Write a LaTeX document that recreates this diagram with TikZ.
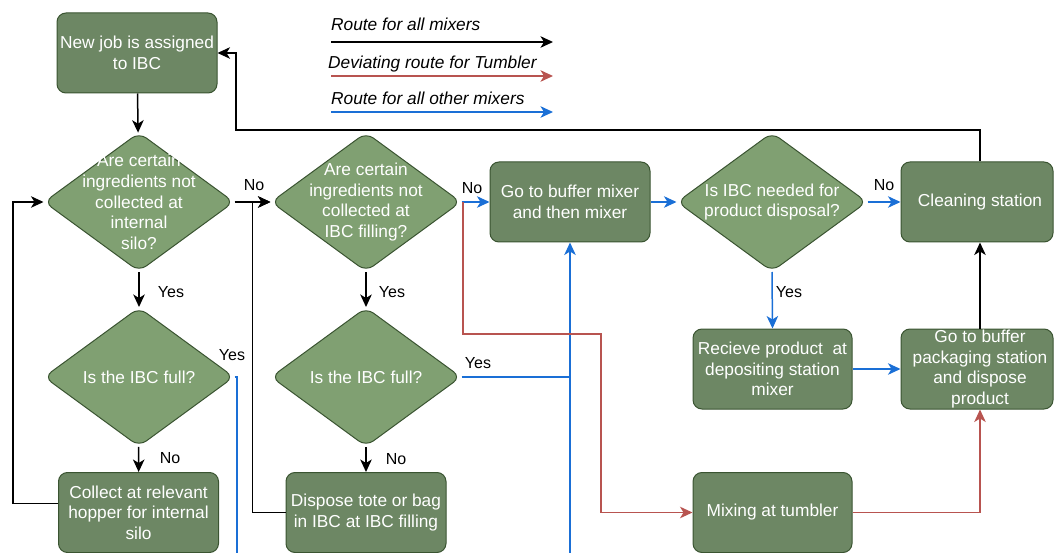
\documentclass[tikz,border=0pt]{standalone}
\usepackage{fontspec}
\setmainfont{Liberation Sans}
\usetikzlibrary{shapes.geometric,arrows.meta}
\definecolor{boxfill}{HTML}{6D8764}
\definecolor{diafill}{HTML}{80A072}
\definecolor{edgecol}{HTML}{3A5431}
\definecolor{routeblue}{HTML}{1A6FD6}
\definecolor{routered}{HTML}{B85450}

\begin{document}
\begin{tikzpicture}[x=1pt,y=-1pt,
  every node/.style={font=\fontsize{17.3}{20.6}\selectfont},
  proc/.style={draw=edgecol, fill=boxfill, line width=1pt, rounded corners=9pt,
    text=white, align=center, minimum width=160pt, minimum height=80pt, inner sep=0pt},
  dec/.style={diamond, draw=edgecol, fill=diafill, line width=1pt, rounded corners=9pt,
    minimum width=190pt, minimum height=139pt, inner sep=0pt},
  dtext/.style={text=white, align=center, inner sep=0pt},
  lbl/.style={font=\fontsize{16}{19}\selectfont, text=black, inner sep=0pt},
  legtext/.style={font=\itshape\fontsize{17.3}{20.6}\selectfont, anchor=west, inner sep=0pt},
  tip/.style={-{Stealth[length=12.5pt,width=11.5pt,inset=3.5pt]}},
  blk/.style={tip, line width=1.5pt, draw=black},
  blu/.style={tip, line width=1.5pt, draw=routeblue},
  red/.style={tip, line width=1.5pt, draw=routered},
  bluline/.style={line width=1.5pt, draw=routeblue},
]
\useasboundingbox (0,0) rectangle (1054,553);

% legend
\node[legtext] (lg1) at (331,24) {Route for all mixers};
\node[legtext] (lg2) at (328,64) {Deviating route for Tumbler};
\node[legtext] (lg3) at (331,98) {Route for all other mixers};
\coordinate (l1a) at (331,42);  \coordinate (l1b) at (553,42);
\coordinate (l2a) at (331,76);  \coordinate (l2b) at (553,76);
\coordinate (l3a) at (331,112); \coordinate (l3b) at (553,112);
\draw[blk] (l1a) -- (l1b);
\draw[red] (l2a) -- (l2b);
\draw[blu] (l3a) -- (l3b);

% process boxes
\node[proc] (job) at (137,53) {New job is assigned\\to IBC};
\node[proc] (coll) at (138.5,512.5) {Collect at relevant\\hopper for internal\\silo};
\node[proc] (disp) at (366,512.5) {Dispose tote or bag\\in IBC at IBC filling};
\node[proc] (buf) at (570,202) {Go to buffer mixer\\and then mixer};
\node[proc, minimum width=152pt] (clean) at (977,202) {\hspace*{6pt}Cleaning station};
\node[proc, minimum width=159pt] (recv) at (772.5,369) {Recieve product\ \ at\\depositing station\\mixer};
\node[proc, minimum width=152pt] (pack) at (977,369) {\hspace*{6pt}Go to buffer\\\hspace*{6pt}packaging station\\\hspace*{6pt}and dispose\\\hspace*{6pt}product};
\node[proc, minimum width=159pt] (tumb) at (772.5,512.5) {Mixing at tumbler};

% decisions
\node[dec, label={[dtext]center:{Are certain\\ingredients not\\collected at\\internal\\silo?}}] (silo) at (139,202) {};
\node[dec, label={[dtext]center:{Is the IBC full?}}] (full1) at (139,377) {};
\node[dec, label={[dtext]center:{Are certain\\ingredients not\\collected at\\IBC filling?}}] (fill) at (366,202) {};
\node[dec, label={[dtext]center:{Is the IBC full?}}] (full2) at (366,377) {};
\node[dec, label={[dtext]center:{Is IBC needed for\\product disposal?}}] (need) at (772,202) {};

% open ends of routes leaving the lower edge
\coordinate (out1) at (237,553);
\coordinate (out2) at (570,553);
\coordinate (redturn) at (463,202);

% black connectors
\draw[blk] (job) -- (silo);
\draw[blk] (silo) -- (full1);
\draw[blk] (full1) -- (coll);
\draw[blk] ([yshift=9pt]coll.west) -- ++(-45,0) |- (silo.west);
\draw[blk] (silo.east) -- (fill.west);
\draw[blk] (disp.west) -- ++(-33,0) |- (fill.west);
\draw[blk] (fill) -- (full2);
\draw[blk] (full2) -- (disp);
\draw[blk] ([xshift=3pt]pack.north) -- ([xshift=3pt]clean.south);
\draw[blk] ([xshift=3pt]clean.north) |- (236,130) |- (job.east);

% blue connectors
\draw[blu] (fill.east) -- (buf.west);
\draw[blu] (buf.east) -- (need.west);
\draw[blu] (need.east) -- (clean.west);
\draw[blu] (need.south) -- (recv.north);
\draw[blu] (recv.east) -- (pack.west);
\draw[blu] (out2) -- (buf.south);
\draw[bluline] (full2.east) -- (570,377);
\draw[bluline] (full1.east) -| (out1);

% red connectors
\draw[red] (redturn) |- (601,334) |- (tumb.west);
\draw[red] (tumb.east) -| ([xshift=3pt]pack.south);

% branch labels
\node[lbl] (y1) at (171,292) {Yes};
\node[lbl] (n1) at (170,458) {No};
\node[lbl] (y2) at (392,292) {Yes};
\node[lbl] (n2) at (396,459) {No};
\node[lbl] (n3) at (254,185) {No};
\node[lbl] (n4) at (472,188) {No};
\node[lbl] (y3) at (232,355) {Yes};
\node[lbl] (y4) at (478,363) {Yes};
\node[lbl] (y5) at (789,292) {Yes};
\node[lbl] (n5) at (884,185) {No};
\end{tikzpicture}
\end{document}
